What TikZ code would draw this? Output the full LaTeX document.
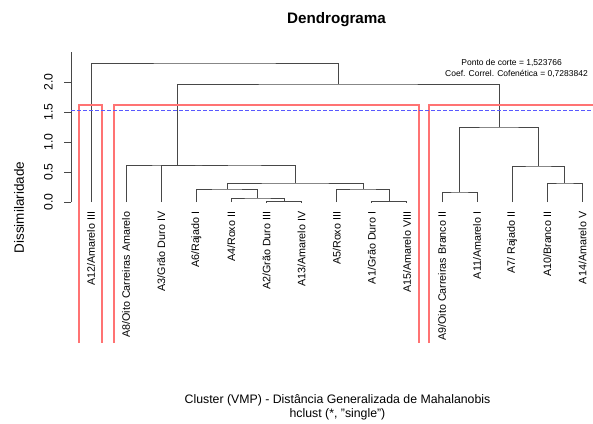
\documentclass[tikz,border=0pt]{standalone}
\usepackage{fontspec}
\setmainfont{Liberation Sans}
\begin{document}
\begin{tikzpicture}[x=1pt,y=-1pt,
  tree/.style={draw=black!72, line width=1pt},
  axisline/.style={draw=black!72, line width=1pt},
  leaflabel/.style={rotate=90, anchor=east, inner sep=0pt, font=\fontsize{10.75}{12}\selectfont},
  ticklabel/.style={rotate=90, anchor=center, inner sep=0pt, font=\fontsize{12.2}{14}\selectfont},
  cutrect/.style={draw=red!55, line width=1.3pt},
  cutline/.style={draw=blue!65, line width=1.1pt, dash pattern=on 3.5pt off 2.5pt},
  note/.style={inner sep=0pt, font=\fontsize{8.5}{10}\selectfont},
]
\useasboundingbox (0,0) rectangle (593,423);

% title
\node[inner sep=0pt, font=\fontsize{15.2}{18}\selectfont\bfseries] (title) at (336.5,20) {Dendrograma};

% y axis
\coordinate (ax0) at (71,202);
\coordinate (axtop) at (71,52);
\draw[axisline] (ax0) -- (axtop);
\foreach \v/\yy/\n in {0.0/202/t0,0.5/172/t1,1.0/142/t2,1.5/112/t3,2.0/82/t4}{
  \coordinate (\n a) at (71,\yy);
  \coordinate (\n b) at (64,\yy);
  \draw[axisline] (\n a) -- (\n b);
  \node[ticklabel] (\n) at (48.5,\yy) {\v};
}
\node[rotate=90, inner sep=0pt, font=\fontsize{13.5}{16}\selectfont] (ylab) at (19,207.5) {Dissimilaridade};

% leaves
\foreach \i/\xx/\lab in {
  1/91/A12\slash Amarelo III,
  2/126.1/A8\slash Oito Carreiras Amarelo,
  3/161.2/A3\slash Grão Duro IV,
  4/196.3/A6\slash Rajado I,
  5/231.4/A4\slash Roxo II,
  6/266.5/A2\slash Grão Duro III,
  7/301.6/A13\slash Amarelo IV,
  8/336.7/A5\slash Roxo III,
  9/371.8/A1\slash Grão Duro I,
  10/406.9/A15\slash Amarelo VIII,
  11/442.0/A9\slash Oito Carreiras Branco II,
  12/477.1/A11\slash Amarelo I,
  13/512.2/A7\slash{} Rajado II,
  14/547.3/A10\slash Branco II,
  15/582.4/A14\slash Amarelo V}{
  \coordinate (l\i) at (\xx,202);
  \node[leaflabel] (lab\i) at (\xx,211.5) {\lab};
}

% merges
\coordinate (m1) at (284.05,201.7);
\coordinate (m2) at (257.7,198);
\coordinate (m3) at (227.0,189);
\coordinate (m4) at (389.35,201.7);
\coordinate (m5) at (363.0,189);
\coordinate (m6) at (295.0,183);
\coordinate (m7) at (228.1,165);
\coordinate (m8) at (177.1,165);
\coordinate (m9) at (459.55,192);
\coordinate (m10) at (564.85,183);
\coordinate (m11) at (538.5,166);
\coordinate (m12) at (499.0,127);
\coordinate (m13) at (338.05,84);
\coordinate (m14) at (214.5,63);

\draw[tree] (l6) |- (m1) -| (l7);
\draw[tree] (l5) |- (m2) -| (m1);
\draw[tree] (l4) |- (m3) -| (m2);
\draw[tree] (l9) |- (m4) -| (l10);
\draw[tree] (l8) |- (m5) -| (m4);
\draw[tree] (m3) |- (m6) -| (m5);
\draw[tree] (l3) |- (m7) -| (m6);
\draw[tree] (l2) |- (m8) -| (m7);
\draw[tree] (l11) |- (m9) -| (l12);
\draw[tree] (l14) |- (m10) -| (l15);
\draw[tree] (l13) |- (m11) -| (m10);
\draw[tree] (m9) |- (m12) -| (m11);
\draw[tree] (m8) |- (m13) -| (m12);
\draw[tree] (l1) |- (m14) -| (m13);

% cut rectangles (bottom edges fall outside the plot)
\coordinate (r1a) at (79,343); \coordinate (r1b) at (79,105);
\coordinate (r1c) at (102,105); \coordinate (r1d) at (102,343);
\draw[cutrect] (r1a) -- (r1b) -- (r1c) -- (r1d);
\coordinate (r2a) at (114,343); \coordinate (r2b) at (114,105);
\coordinate (r2c) at (419,105); \coordinate (r2d) at (419,343);
\draw[cutrect] (r2a) -- (r2b) -- (r2c) -- (r2d);
\coordinate (r3a) at (429,343); \coordinate (r3b) at (429,105); \coordinate (r3c) at (594,105);
\draw[cutrect] (r3a) -- (r3b) -- (r3c);

% cut line
\coordinate (c0) at (71,110.6);
\coordinate (c1) at (593,110.6);
\draw[cutline] (c0) -- (c1);

% notes
\node[note, anchor=east] (n1) at (562,63) {Ponto de corte = 1,523766};
\node[note, anchor=east] (n2) at (588,74) {Coef. Correl. Cofenética = 0,7283842};

% x label
\node[inner sep=0pt, font=\fontsize{12.3}{14}\selectfont] (xl1) at (337.5,400) {Cluster (VMP) - Distância Generalizada de Mahalanobis};
\node[inner sep=0pt, font=\fontsize{12.3}{14}\selectfont] (xl2) at (337.5,414) {hclust (*, "single")};
\end{tikzpicture}
\end{document}
